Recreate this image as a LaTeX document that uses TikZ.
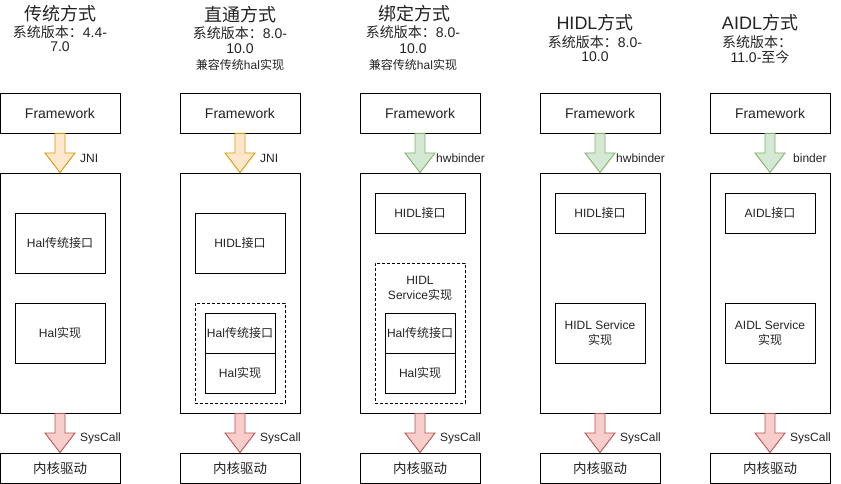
\documentclass[tikz,border=0pt]{standalone}
\usepackage{fontspec}
\setmainfont{Liberation Sans}
\newfontfamily\zhf{Noto Sans CJK SC}
\usetikzlibrary{calc}
\definecolor{txt}{HTML}{222222}
\definecolor{oFill}{HTML}{FFE6CC}\definecolor{oLine}{HTML}{D79B00}
\definecolor{gFill}{HTML}{D5E8D4}\definecolor{gLine}{HTML}{82B366}
\definecolor{rFill}{HTML}{F8CECC}\definecolor{rLine}{HTML}{B85450}
\newcommand\zh[1]{{\zhf #1}}
\newcommand\blockarrow[3]{%
  \draw[#1] ($(#2.south)+(-5,0)$) -- ($(#2.south)+(5,0)$)
    -- ($(#2.south)!0.5!(#3.north)+(5,0)$) -- ($(#2.south)!0.5!(#3.north)+(15,0)$)
    -- (#3.north) -- ($(#2.south)!0.5!(#3.north)+(-15,0)$)
    -- ($(#2.south)!0.5!(#3.north)+(-5,0)$) -- cycle;}
\tikzset{
  base/.style={draw=black, line width=0.9pt, inner sep=0pt, align=center, text=txt},
  fwbox/.style={base, minimum width=120pt, minimum height=40pt, font=\fontsize{14}{16}\selectfont},
  mainbox/.style={base, minimum width=120pt, minimum height=240pt},
  kbox/.style={base, minimum width=120pt, minimum height=30pt, font=\fontsize{13.5}{16}\selectfont},
  inbox/.style={base, minimum width=90pt, minimum height=60pt, font=\fontsize{12}{15}\selectfont},
  smallbox/.style={base, minimum width=90pt, minimum height=40pt, font=\fontsize{12}{15}\selectfont},
  halbox/.style={base, minimum width=70pt, minimum height=40pt, font=\fontsize{12}{15}\selectfont},
  dbox/.style={draw=black, line width=0.8pt, dash pattern=on 3pt off 2pt, inner sep=0pt},
  title/.style={text=txt, inner sep=0pt, font=\fontsize{18}{20}\selectfont},
  ver/.style={text=txt, inner sep=0pt, align=center, font=\fontsize{14}{16}\selectfont},
  note/.style={text=txt, inner sep=0pt, font=\fontsize{12}{14}\selectfont},
  lbl/.style={text=txt, inner sep=0pt, anchor=west, font=\fontsize{12}{14}\selectfont},
  oarr/.style={fill=oFill, draw=oLine, line width=0.9pt, line join=miter},
  garr/.style={fill=gFill, draw=gLine, line width=0.9pt, line join=miter},
  rarr/.style={fill=rFill, draw=rLine, line width=0.9pt, line join=miter},
}
\begin{document}
\begin{tikzpicture}[x=1pt, y=-1pt]
\useasboundingbox (0,0) rectangle (841,484);
% ---------- titles ----------
\node[title] (t1) at (60,14) {\zh{传统方式}};
\node[ver] (v1a) at (60,32) {\zh{系统版本：}4.4-};
\node[ver] (v1b) at (60,47) {7.0};
\node[title] (t2) at (240,15) {\zh{直通方式}};
\node[ver] (v2a) at (240,33) {\zh{系统版本：}8.0-};
\node[ver] (v2b) at (240,49) {10.0};
\node[note] (v2c) at (240,65) {\zh{兼容传统}hal\zh{实现}};
\node[title] (t3) at (414,14) {\zh{绑定方式}};
\node[ver] (v3a) at (413,32) {\zh{系统版本：}8.0-};
\node[ver] (v3b) at (413,49) {10.0};
\node[note] (v3c) at (413,65) {\zh{兼容传统}hal\zh{实现}};
\node[title] (t4) at (595,23) {HIDL\zh{方式}};
\node[ver] (v4a) at (595,42) {\zh{系统版本：}8.0-};
\node[ver] (v4b) at (595,57) {10.0};
\node[title] (t5) at (760,23) {AIDL\zh{方式}};
\node[ver] (v5a) at (757,42) {\zh{系统版本：}};
\node[ver] (v5b) at (760,57) {11.0-\zh{至今}};
% ---------- column 1 ----------
\node[fwbox] (fw1) at (60,113) {Framework};
\node[mainbox] (m1) at (60,293) {};
\node[kbox] (k1) at (60,468) {\zh{内核驱动}};
\node[inbox] (a1) at (60,243) {Hal\zh{传统接口}};
\node[inbox] (b1) at (60,333) {Hal\zh{实现}};
% ---------- column 2 ----------
\node[fwbox] (fw2) at (240,113) {Framework};
\node[mainbox] (m2) at (240,293) {};
\node[kbox] (k2) at (240,468) {\zh{内核驱动}};
\node[inbox] (a2) at (240,243) {HIDL\zh{接口}};
\node[dbox, minimum width=90pt, minimum height=100pt] (d2) at (240,353) {};
\node[halbox] (c2) at (240,333) {Hal\zh{传统接口}};
\node[halbox] (e2) at (240,373) {Hal\zh{实现}};
% ---------- column 3 ----------
\node[fwbox] (fw3) at (420,113) {Framework};
\node[mainbox] (m3) at (420,293) {};
\node[kbox] (k3) at (420,468) {\zh{内核驱动}};
\node[smallbox] (a3) at (420,213) {HIDL\zh{接口}};
\node[dbox, minimum width=90pt, minimum height=140pt] (d3) at (420,333) {};
\node[note, align=center, font=\fontsize{12}{15}\selectfont] (s3) at (420,288) {HIDL\\Service\zh{实现}};
\node[halbox] (c3) at (420,333) {Hal\zh{传统接口}};
\node[halbox] (e3) at (420,373) {Hal\zh{实现}};
% ---------- column 4 ----------
\node[fwbox] (fw4) at (600,113) {Framework};
\node[mainbox] (m4) at (600,293) {};
\node[kbox] (k4) at (600,468) {\zh{内核驱动}};
\node[smallbox] (a4) at (600,213) {HIDL\zh{接口}};
\node[inbox] (b4) at (600,333) {HIDL Service\\\zh{实现}};
% ---------- column 5 ----------
\node[fwbox] (fw5) at (770,113) {Framework};
\node[mainbox] (m5) at (770,293) {};
\node[kbox] (k5) at (770,468) {\zh{内核驱动}};
\node[smallbox] (a5) at (770,213) {AIDL\zh{接口}};
\node[inbox] (b5) at (770,333) {AIDL Service\\\zh{实现}};
% ---------- arrows ----------
\blockarrow{oarr}{fw1}{m1}
\blockarrow{oarr}{fw2}{m2}
\blockarrow{garr}{fw3}{m3}
\blockarrow{garr}{fw4}{m4}
\blockarrow{garr}{fw5}{m5}
\foreach \i in {1,...,5}{\blockarrow{rarr}{m\i}{k\i}}
% ---------- arrow labels ----------
\node[lbl] (l1) at (80,158) {JNI};
\node[lbl] (l2) at (260,158) {JNI};
\node[lbl] (l3) at (436,158) {hwbinder};
\node[lbl] (l4) at (616,158) {hwbinder};
\node[lbl] (l5) at (793,158) {binder};
\foreach \x/\n in {80/1,260/2,440/3,620/4,790/5}{\node[lbl] (s\n) at (\x,438) {SysCall};}
\end{tikzpicture}
\end{document}
